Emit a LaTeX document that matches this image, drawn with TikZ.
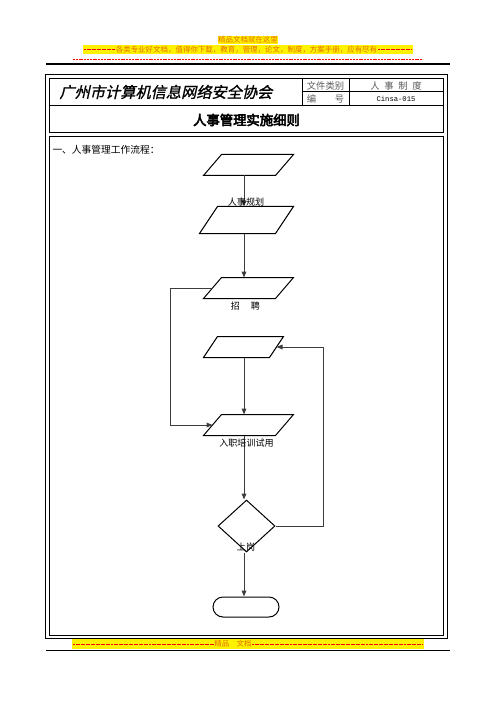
\documentclass[tikz,border=0pt]{standalone}
\usepackage{fontspec}
\setmainfont{Liberation Serif}
\newfontfamily\cjk{Noto Sans CJK SC}
\newfontfamily\cjkslant{Noto Sans CJK SC}[FakeSlant=0.22,FakeBold=1.2]
\newfontfamily\cjkbold{Noto Sans CJK SC}[FakeBold=4]
\newfontfamily\monofnt{Liberation Mono}
\usetikzlibrary{shapes.geometric,arrows.meta}

\definecolor{bannerorange}{RGB}{230,110,0}
\definecolor{cellgray}{RGB}{90,90,90}

% parallelogram outline round a box node: name, slant
\newcommand{\paraoutline}[2]{%
  \draw (#1.south west) -- ([xshift=#2]#1.north west) -- (#1.north east)
    -- ([xshift=-#2]#1.south east) -- cycle ;}

\tikzset{every picture/.style={line width=0.75pt}}

\begin{document}
\begin{tikzpicture}[x=0.75pt,y=0.75pt,yscale=-1,xscale=1,
  io/.style={rectangle,inner sep=0pt},
  flowline/.style={draw={rgb,255:red,60;green,60;blue,60},line width=0.75pt,
    -{Triangle[length=4.5pt,width=3.5pt]}},
  flowtext/.style={inner sep=0.5pt,font=\cjk\fontsize{6.8}{7}\selectfont},
  celltext/.style={inner sep=0pt,text=cellgray,font=\cjk\fontsize{7}{8}\selectfont},
  banner/.style={inner sep=0pt,text=bannerorange,font=\cjk\fontsize{5.6}{6}\selectfont}]
\useasboundingbox (0,0) rectangle (496,702);

%Banner top
\fill [yellow] (218,36) rectangle (278,44) ;
\node (bantop) [banner] at (248,40) {精品文档就在这里};
\fill [yellow] (83,45) rectangle (413,54) ;
\draw [red,line width=0.6pt,dash pattern={on 1.5pt off 0.4pt}] (84,49.5) -- (115,49.5) ;
\draw [red,line width=0.6pt,dash pattern={on 1.5pt off 0.4pt}] (378,49.5) -- (412,49.5) ;
\node (banmid) [banner] at (246.5,49.5) {各类专业好文档，值得你下载，教育，管理，论文，制度，方案手册，应有尽有};
\draw [red,line width=0.4pt,dash pattern={on 1.5pt off 0.6pt}] (73,59) -- (423,59) ;
\draw [line width=0.9pt] (46,64) -- (450,64) ;

%Shape: Frame
\draw   (45,75) rectangle (447,638) ;
\draw   (49,79) rectangle (443,133) ;
\draw   (49,137) rectangle (443,635) ;
%Header rows
\draw   (49,106) -- (443,106) ;
\draw   (302,79) -- (302,106) ;
\draw   (349,79) -- (349,106) ;
\draw   (302,92) -- (443,92) ;

% Text Node
\node (org) [anchor=west,inner sep=0pt,font=\cjkslant\fontsize{11.4}{12}\selectfont] at (59,92) {广州市计算机信息网络安全协会};
% Text Node
\node (kind) [celltext] at (325.5,85.5) {文件类别};
% Text Node
\node (kindval) [celltext] at (396,85.5) {人\enspace 事\enspace 制\enspace 度};
% Text Node
\node (num) [celltext] at (325.5,99) {编\hspace{2em}号};
% Text Node
\node (numval) [inner sep=0pt,font=\monofnt\fontsize{5.4}{6}\selectfont] at (396,99) {Cinsa-015};
% Text Node
\node (title) [inner sep=0pt,font=\cjkbold\fontsize{10}{10}\selectfont] at (246.5,120) {人事管理实施细则};
% Text Node
\node (sect) [anchor=west,inner sep=0pt,font=\cjk\fontsize{7.3}{8}\selectfont] at (52,150) {一、人事管理工作流程：};

%Flow axis
\coordinate (ax) at (244,0) ;
%Shape: Parallelogram
\node (plan) [io,minimum width=66.75pt,minimum height=15pt] at (248.5,165) {};
\paraoutline{plan}{13.5pt}
%Shape: Parallelogram
\node (planb) [io,minimum width=69.75pt,minimum height=19.5pt] at (246.5,220) {};
\paraoutline{planb}{13.5pt}
%Shape: Parallelogram
\node (hire) [io,minimum width=66.75pt,minimum height=15pt] at (248.5,288) {};
\paraoutline{hire}{13.5pt}
%Shape: Parallelogram
\node (back) [io,minimum width=59.25pt,minimum height=15pt] at (243.5,347) {};
\paraoutline{back}{10.5pt}
%Shape: Parallelogram
\node (train) [io,minimum width=66.75pt,minimum height=15pt] at (248.5,425) {};
\paraoutline{train}{13.5pt}
%Shape: Diamond
\node (post) [diamond,draw,inner sep=0pt,minimum width=42.75pt,minimum height=39pt] at (246.5,526) {};
%Shape: Terminator
\node (done) [rectangle,draw,rounded corners=7.5pt,inner sep=0pt,minimum width=49.5pt,minimum height=15pt] at (246,607) {};

%Straight Lines
\draw [flowline] (plan.south -| ax) -- (planb.north -| ax) ;
\draw [flowline] (planb.south -| ax) -- (hire.north -| ax) ;
\draw [flowline] (back.south -| ax) -- (train.north -| ax) ;
\draw [flowline] (train.south -| ax) -- (post.north -| ax) ;
\draw [flowline] (post.south -| ax) -- (done.north -| ax) ;
%Loop lines
\coordinate (leftrun) at (170,0) ;
\coordinate (rightrun) at (323,0) ;
\draw [flowline,-] ([xshift=6.75pt]hire.west) -- (hire.west -| leftrun) ;
\draw [flowline] (hire.west -| leftrun) |- ([xshift=6.75pt]train.west) ;
\draw [flowline] (post.east) -- (post.east -| rightrun) |- ([xshift=-5.25pt]back.east) ;

% Text Node
\node (planlbl) [flowtext] at (246,202) {人事规划};
% Text Node
\node (hirelbl) [flowtext] at (245.5,306) {招\hspace{1.2em}聘};
% Text Node
\node (trainlbl) [flowtext] at (246.5,443) {入职培训试用};
% Text Node
\node (postlbl) [flowtext] at (246,547) {上岗};

%Banner bottom
\fill [yellow] (72,639) rectangle (424,649) ;
\draw [red,line width=0.6pt,dash pattern={on 1.5pt off 0.4pt}] (73,644) -- (214,644) ;
\draw [red,line width=0.6pt,dash pattern={on 1.5pt off 0.4pt}] (252,644) -- (423,644) ;
\node (banbot) [banner] at (233,644) {精品\hspace{1em}文档};
\draw [line width=0.9pt] (46,650.5) -- (450,650.5) ;

\end{tikzpicture}
\end{document}
